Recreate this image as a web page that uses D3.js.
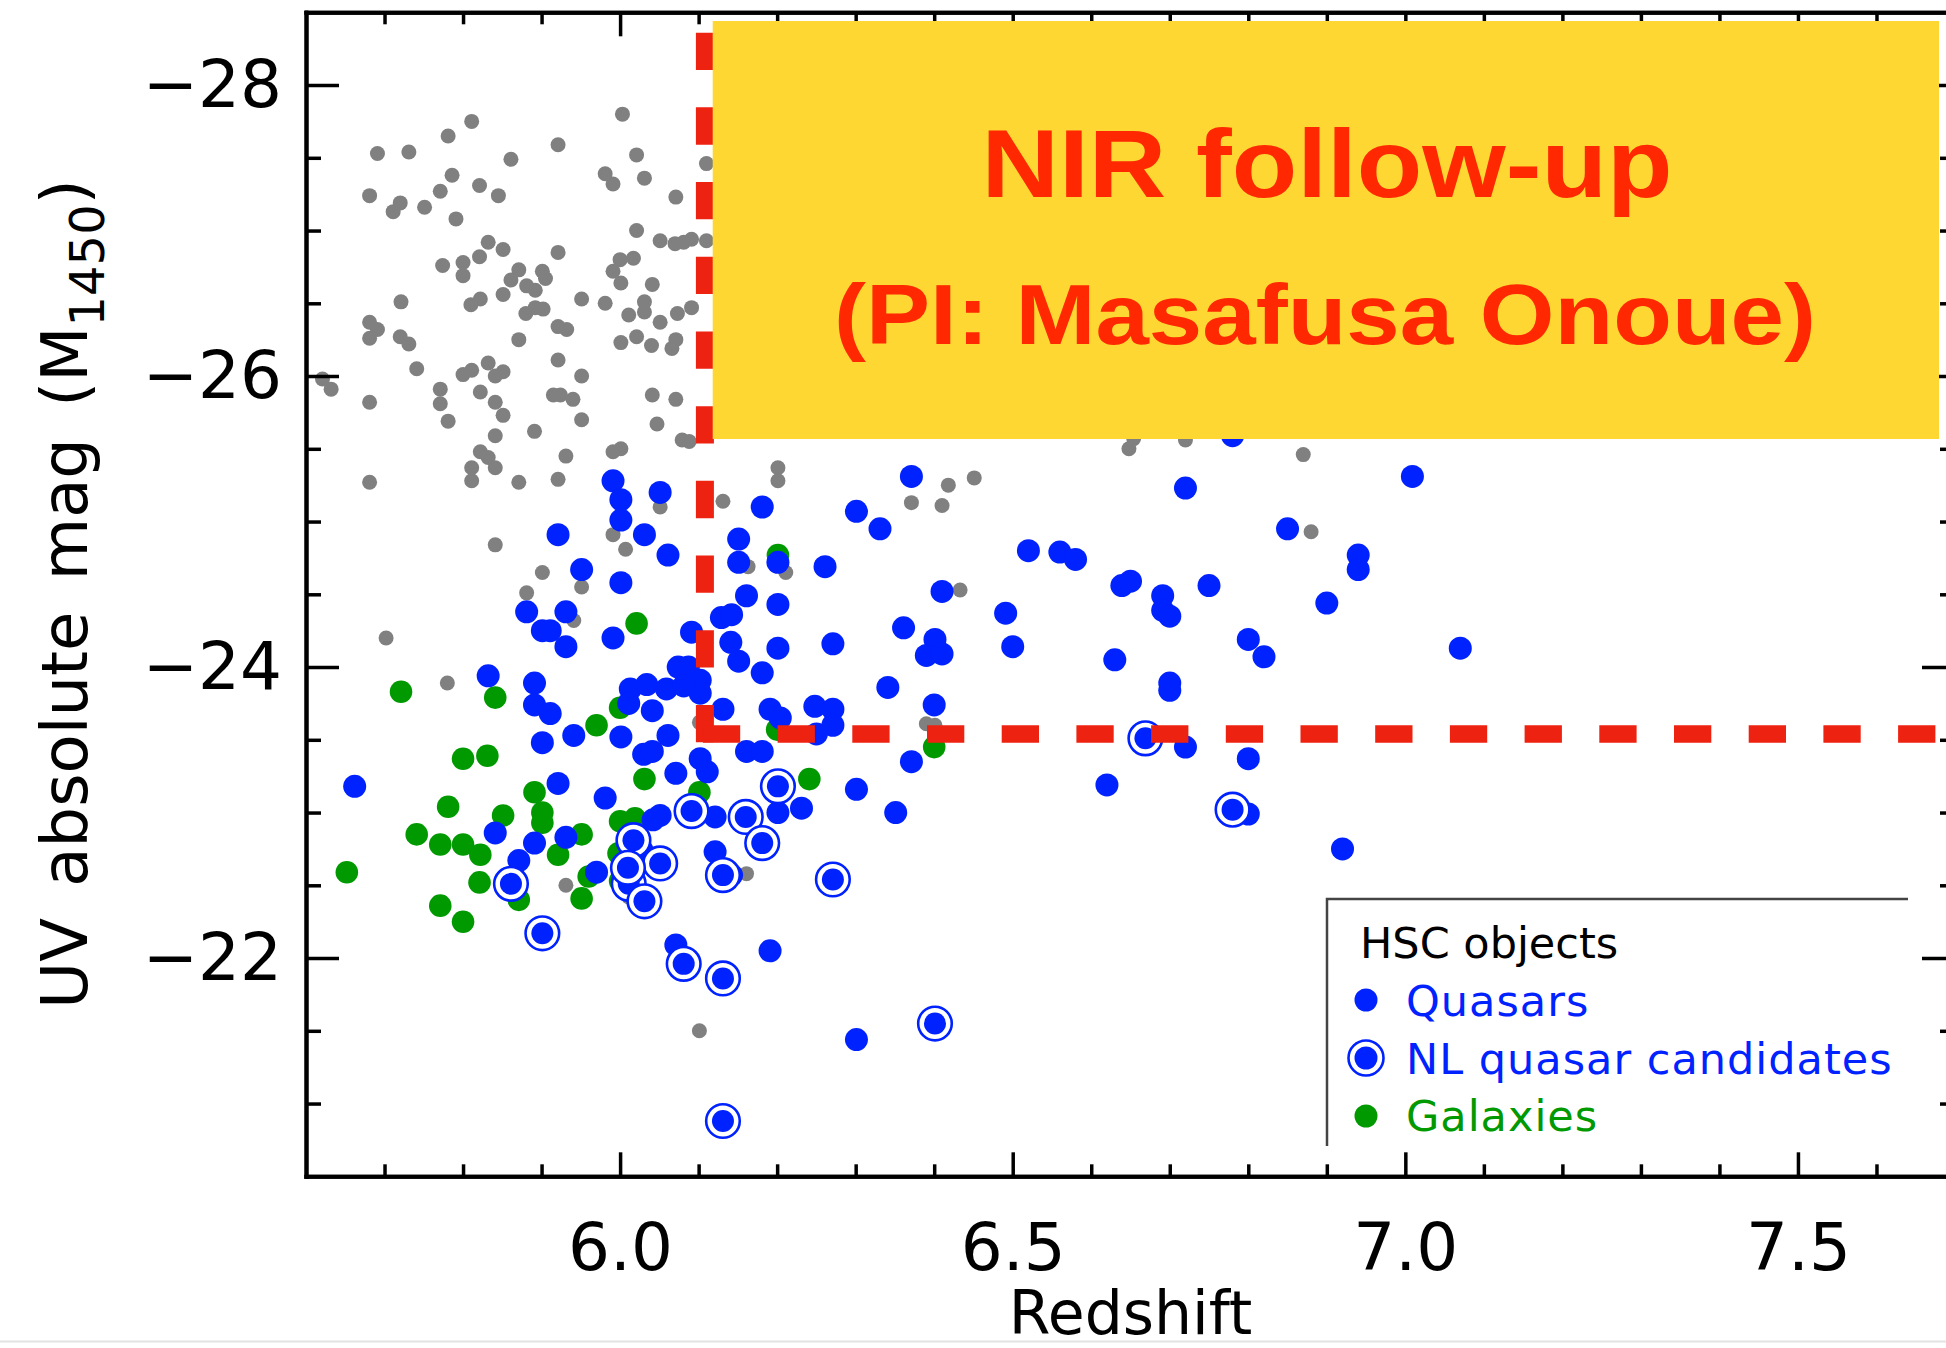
<!DOCTYPE html>
<html><head><meta charset="utf-8">
<script src="https://cdn.jsdelivr.net/npm/d3@7"></script>
<style>
html,body{margin:0;padding:0;background:#fff;}
svg{display:block;}
</style></head><body>
<svg id="chart" width="1946" height="1348"></svg>
<script>
// ---------- data (redshift, M1450) ----------
const xMajorTicks = [6.0, 6.5, 7.0, 7.5];
const xMinorTicks = [5.7, 5.8, 5.9, 6.1, 6.2, 6.3, 6.4, 6.6, 6.7, 6.8, 6.9, 7.1, 7.2, 7.3, 7.4, 7.6];
const yMajorTicks = [-28, -26, -24, -22];
const yMinorTicks = [-27.5, -27, -26.5, -25.5, -25, -24.5, -23.5, -23, -22.5, -21.5, -21];

const hscOther = [
[6.003,-27.80],[5.811,-27.75],[5.781,-27.65],[5.691,-27.53],[5.731,-27.54],[5.921,-27.59],[6.021,-27.52],[5.861,-27.49],
[5.981,-27.39],[5.991,-27.32],[6.031,-27.36],[6.110,-27.46],[5.681,-27.24],[5.720,-27.19],[5.711,-27.13],[5.751,-27.16],
[5.771,-27.27],[5.786,-27.38],[5.821,-27.31],[5.845,-27.24],[5.791,-27.08],[6.071,-27.23],[6.021,-27.00],[6.051,-26.93],
[6.070,-26.91],[6.081,-26.92],[6.091,-26.94],[6.110,-26.93],[5.832,-26.92],[5.851,-26.87],[5.821,-26.82],[5.800,-26.78],
[5.800,-26.69],[5.774,-26.76],[5.921,-26.85],[6.000,-26.80],[6.017,-26.81],[5.991,-26.72],[6.001,-26.64],[6.041,-26.63],
[5.871,-26.73],[5.861,-26.66],[5.901,-26.72],[5.905,-26.67],[5.881,-26.62],[5.892,-26.59],[5.851,-26.56],[5.822,-26.53],
[5.810,-26.49],[5.721,-26.51],[5.951,-26.53],[5.981,-26.50],[5.880,-26.43],[5.892,-26.47],[5.902,-26.46],[6.011,-26.42],
[6.031,-26.51],[6.031,-26.44],[6.051,-26.37],[6.073,-26.43],[6.091,-26.47],[5.681,-26.37],[5.691,-26.32],[5.681,-26.26],
[5.720,-26.27],[5.731,-26.22],[5.871,-26.25],[5.921,-26.34],[5.932,-26.32],[6.001,-26.23],[6.021,-26.27],[6.040,-26.21],
[6.071,-26.25],[6.066,-26.19],[5.741,-26.05],[5.800,-26.01],[5.811,-26.04],[5.832,-26.09],[5.841,-26.00],[5.851,-26.03],
[5.921,-26.11],[5.951,-26.00],[5.621,-25.98],[5.632,-25.91],[5.771,-25.91],[5.822,-25.89],[5.681,-25.82],[5.915,-25.87],
[5.924,-25.87],[5.940,-25.84],[6.041,-25.87],[6.071,-25.84],[5.841,-25.82],[5.771,-25.81],[5.781,-25.69],[5.851,-25.73],
[5.841,-25.59],[5.891,-25.62],[5.951,-25.70],[6.047,-25.67],[6.079,-25.56],[6.088,-25.55],[5.822,-25.48],[5.832,-25.44],
[5.811,-25.37],[5.841,-25.37],[5.811,-25.28],[5.871,-25.27],[5.921,-25.29],[5.931,-25.45],[5.991,-25.48],[6.001,-25.50],
[5.681,-25.27],[6.051,-25.10],[5.991,-24.91],[6.007,-24.81],[5.841,-24.84],[5.901,-24.65],[5.951,-24.55],[5.881,-24.51],
[5.941,-24.32],[5.702,-24.20],[5.780,-23.89],[6.131,-25.14],[6.201,-25.37],[6.201,-25.28],[6.418,-25.25],[6.451,-25.30],
[6.371,-25.13],[6.410,-25.11],[6.163,-24.69],[6.211,-24.65],[6.433,-24.53],[6.390,-23.61],[6.401,-23.60],[5.931,-22.50],
[6.011,-22.42],[6.101,-21.50],[6.101,-23.62],[6.161,-22.58],[6.180,-22.73],[6.654,-25.57],[6.648,-25.50],[6.720,-25.56],
[6.870,-25.46],[6.880,-24.93]
];

const galaxies = [
[6.021,-24.30],[5.721,-23.83],[5.841,-23.79],[6.000,-23.72],[5.970,-23.60],[6.031,-23.23],[6.101,-23.14],[5.800,-23.37],
[5.831,-23.39],[5.891,-23.14],[5.781,-23.04],[5.851,-22.98],[5.901,-23.00],[5.901,-22.93],[5.741,-22.85],[5.771,-22.78],
[5.800,-22.78],[5.822,-22.71],[5.652,-22.59],[5.921,-22.71],[5.951,-22.85],[5.821,-22.52],[5.771,-22.36],[5.800,-22.25],
[5.871,-22.40],[5.951,-22.41],[5.960,-22.56],[6.000,-22.94],[6.019,-22.96],[5.998,-22.72],[6.000,-22.53],[6.201,-24.77],
[6.200,-23.57],[6.400,-23.45],[6.241,-23.23]
];

const quasars = [
[5.991,-25.28],[6.001,-25.15],[6.001,-25.01],[6.051,-25.20],[5.921,-24.91],[6.031,-24.91],[6.061,-24.77],[5.951,-24.67],
[6.001,-24.58],[5.881,-24.38],[5.931,-24.38],[5.901,-24.25],[5.911,-24.25],[5.931,-24.14],[5.991,-24.20],[6.091,-24.24],
[5.832,-23.94],[5.891,-23.89],[5.891,-23.74],[5.911,-23.68],[6.013,-23.85],[6.034,-23.88],[6.059,-23.85],[6.074,-24.00],
[6.087,-24.00],[6.102,-23.91],[6.102,-23.82],[6.011,-23.75],[6.041,-23.70],[6.081,-23.87],[5.901,-23.48],[5.941,-23.53],
[6.001,-23.52],[6.061,-23.53],[6.030,-23.40],[6.041,-23.42],[6.102,-23.37],[6.111,-23.28],[6.071,-23.27],[5.662,-23.18],
[5.921,-23.20],[5.981,-23.10],[5.841,-22.86],[5.891,-22.79],[5.931,-22.83],[5.871,-22.67],[5.970,-22.59],[6.051,-22.98],
[6.042,-22.95],[6.021,-22.85],[6.013,-22.74],[6.028,-22.74],[6.006,-22.63],[6.017,-22.58],[6.011,-22.49],[6.042,-22.65],
[6.071,-22.09],[6.181,-25.10],[6.371,-25.31],[6.301,-25.07],[6.331,-24.95],[6.151,-24.88],[6.151,-24.72],[6.201,-24.72],
[6.261,-24.69],[6.520,-24.80],[6.560,-24.79],[6.580,-24.74],[6.410,-24.52],[6.161,-24.49],[6.201,-24.43],[6.129,-24.34],
[6.142,-24.36],[6.491,-24.37],[6.361,-24.27],[6.401,-24.19],[6.390,-24.08],[6.410,-24.09],[6.500,-24.14],[6.141,-24.17],
[6.151,-24.04],[6.201,-24.13],[6.271,-24.16],[6.181,-23.96],[6.341,-23.86],[6.400,-23.74],[6.131,-23.71],[6.191,-23.71],
[6.204,-23.65],[6.248,-23.73],[6.271,-23.71],[6.271,-23.60],[6.250,-23.54],[6.161,-23.42],[6.181,-23.42],[6.371,-23.35],
[6.301,-23.16],[6.620,-23.19],[6.121,-22.97],[6.201,-23.00],[6.231,-23.03],[6.351,-23.00],[6.121,-22.73],[6.142,-22.57],
[6.191,-22.05],[6.301,-21.44],[7.009,-25.31],[6.720,-25.23],[6.850,-24.95],[6.940,-24.77],[6.940,-24.67],[6.639,-24.56],
[6.650,-24.59],[6.750,-24.56],[6.691,-24.49],[6.691,-24.39],[6.700,-24.35],[6.900,-24.44],[6.800,-24.19],[6.820,-24.07],
[7.070,-24.13],[6.630,-24.05],[6.700,-23.89],[6.700,-23.84],[6.720,-23.45],[6.800,-23.37],[6.800,-22.99],[6.920,-22.75],
[6.780,-25.59]
];

const nlCandidates = [
[5.861,-22.51],[6.091,-23.01],[6.017,-22.81],[6.011,-22.51],[6.051,-22.65],[6.031,-22.39],[6.081,-21.96],[5.901,-22.17],
[6.201,-23.18],[6.160,-22.97],[6.181,-22.79],[6.131,-22.57],[6.271,-22.54],[6.131,-21.86],[6.401,-21.55],[6.131,-20.88],
[6.669,-23.51],[6.780,-23.02],[6.010,-22.62]
];

const legendTitle = "HSC objects";
const legendLabels = ["Quasars", "NL quasar candidates", "Galaxies"];
const nirCut = {z: 6.108, m: -23.54, mTop: -28.36};
const boxLines = ["NIR follow-up", "(PI: Masafusa Onoue)"];

// ---------- drawing ----------
const BLUE = "#0022ff", GREEN = "#009900", GRAY = "#808080";
const RED_LINE = "#ee2211", RED_TEXT = "#ff2800", YELLOW = "#fed733";
const FONT = "'DejaVu Sans', sans-serif";

const svg = d3.select("#chart");
const x = d3.scaleLinear().domain([5.6, 7.7]).range([306, 1955]);
const y = d3.scaleLinear().domain([-28.5, -20.5]).range([12.3, 1176.3]);

// points
const gPts = svg.append("g");
gPts.append("g").selectAll("circle").data(hscOther).join("circle")
  .attr("cx", d => x(d[0])).attr("cy", d => y(d[1])).attr("r", 7.5).attr("fill", GRAY);
gPts.append("g").selectAll("circle").data(galaxies).join("circle")
  .attr("cx", d => x(d[0])).attr("cy", d => y(d[1])).attr("r", 11.3).attr("fill", GREEN);
gPts.append("g").selectAll("circle").data(quasars).join("circle")
  .attr("cx", d => x(d[0])).attr("cy", d => y(d[1])).attr("r", 11.5).attr("fill", BLUE);
const nl = gPts.append("g").selectAll("g").data(nlCandidates).join("g")
  .attr("transform", d => `translate(${x(d[0])},${y(d[1])})`);
nl.append("circle").attr("r", 16.8).attr("fill", "#fff").attr("stroke", BLUE).attr("stroke-width", 2.6);
nl.append("circle").attr("r", 11).attr("fill", BLUE);

// axes
function styleAxis(g, withText) {
  g.selectAll("path.domain").attr("stroke", "#000").attr("stroke-width", 4).attr("stroke-linecap", "square");
  g.selectAll(".tick line").attr("stroke", "#000").attr("stroke-width", 3.5);
  if (withText) g.selectAll(".tick text").attr("font-family", FONT).attr("font-size", 66).attr("fill", "#000");
}
const gAx = svg.append("g");
styleAxis(gAx.append("g").attr("transform", "translate(306,0)")
  .call(d3.axisLeft(y).tickValues(yMajorTicks).tickSizeInner(-33).tickSizeOuter(0).tickPadding(24).tickFormat(d3.format("d"))), true);
styleAxis(gAx.append("g").attr("transform", "translate(306,0)")
  .call(d3.axisLeft(y).tickValues(yMinorTicks).tickSizeInner(-15).tickSizeOuter(0).tickFormat("")), false);
styleAxis(gAx.append("g").attr("transform", `translate(${x(7.7)},0)`)
  .call(d3.axisRight(y).tickValues(yMajorTicks).tickSizeInner(-33).tickSizeOuter(0).tickFormat("")), false);
styleAxis(gAx.append("g").attr("transform", `translate(${x(7.7)},0)`)
  .call(d3.axisRight(y).tickValues(yMinorTicks).tickSizeInner(-15).tickSizeOuter(0).tickFormat("")), false);
styleAxis(gAx.append("g").attr("transform", `translate(0,${y(-20.5)})`)
  .call(d3.axisBottom(x).tickValues(xMajorTicks).tickSizeInner(-24).tickSizeOuter(0).tickPadding(47).tickFormat(d3.format(".1f"))), true);
styleAxis(gAx.append("g").attr("transform", `translate(0,${y(-20.5)})`)
  .call(d3.axisBottom(x).tickValues(xMinorTicks).tickSizeInner(-12).tickSizeOuter(0).tickFormat("")), false);
styleAxis(gAx.append("g").attr("transform", `translate(0,${y(-28.5)})`)
  .call(d3.axisTop(x).tickValues(xMajorTicks).tickSizeInner(-24).tickSizeOuter(0).tickFormat("")), false);
styleAxis(gAx.append("g").attr("transform", `translate(0,${y(-28.5)})`)
  .call(d3.axisTop(x).tickValues(xMinorTicks).tickSizeInner(-12).tickSizeOuter(0).tickFormat("")), false);

// axis titles
const yl = svg.append("text").attr("transform", "translate(87,594) rotate(-90)")
  .attr("text-anchor", "middle").attr("font-family", FONT).attr("font-size", 64)
  .attr("word-spacing", 11).attr("fill", "#000");
yl.append("tspan").text("UV absolute mag (M");
yl.append("tspan").attr("font-size", 48).attr("dy", 17).text("1450");
yl.append("tspan").attr("dy", -17).text(")");

svg.append("text").attr("x", x(6.65)).attr("y", 1334).attr("text-anchor", "middle")
  .attr("font-family", FONT).attr("font-size", 60).attr("fill", "#000").text("Redshift");

// dashed selection lines
const cxp = x(nirCut.z), cyp = y(nirCut.m);
svg.append("path").attr("d", `M${cxp},${y(nirCut.mTop)}V${cyp + 9}`)
  .attr("stroke", RED_LINE).attr("stroke-width", 18).attr("fill", "none").attr("stroke-dasharray", "37.3,37.4");
svg.append("path").attr("d", `M${cxp - 2},${cyp}H${x(7.7)}`)
  .attr("stroke", RED_LINE).attr("stroke-width", 17.5).attr("fill", "none").attr("stroke-dasharray", "37.3,37.4");

// yellow annotation box
svg.append("rect").attr("x", 712.7).attr("y", 21).attr("width", 1939 - 712.7).attr("height", 439 - 21).attr("fill", YELLOW);
svg.append("text").attr("x", 1327).attr("y", 197).attr("text-anchor", "middle")
  .attr("font-family", "'Liberation Sans', Arial, sans-serif").attr("font-weight", "bold").attr("font-size", 96)
  .attr("fill", RED_TEXT).attr("textLength", 691).attr("lengthAdjust", "spacingAndGlyphs").text(boxLines[0]);
svg.append("text").attr("x", 1325).attr("y", 344).attr("text-anchor", "middle")
  .attr("font-family", "'Liberation Sans', Arial, sans-serif").attr("font-weight", "bold").attr("font-size", 85)
  .attr("fill", RED_TEXT).attr("textLength", 982).attr("lengthAdjust", "spacingAndGlyphs").text(boxLines[1]);

// legend
const lg = svg.append("g");
lg.append("path").attr("d", "M1327,1146V899H1908").attr("fill", "none").attr("stroke", "#444").attr("stroke-width", 2.5);
lg.append("text").attr("x", 1360).attr("y", 958).attr("font-family", FONT).attr("font-size", 43).attr("fill", "#000").text(legendTitle);
const legendY = [1000, 1058, 1116];
const legendBase = [1016, 1074, 1131];
const legendColor = [BLUE, BLUE, GREEN];
legendLabels.forEach((lab, i) => {
  if (i === 1) {
    lg.append("circle").attr("cx", 1366).attr("cy", legendY[i]).attr("r", 17.5).attr("fill", "#fff").attr("stroke", BLUE).attr("stroke-width", 2.6);
  }
  lg.append("circle").attr("cx", 1366).attr("cy", legendY[i]).attr("r", 11.5).attr("fill", legendColor[i]);
  lg.append("text").attr("x", 1406).attr("y", legendBase[i]).attr("font-family", FONT).attr("font-size", 43)
    .attr("letter-spacing", 1).attr("fill", legendColor[i]).text(lab);
});

// bottom edge line
svg.append("line").attr("x1", 0).attr("x2", 1946).attr("y1", 1341.5).attr("y2", 1341.5).attr("stroke", "#e2e2e2").attr("stroke-width", 2);
</script>
</body></html>
